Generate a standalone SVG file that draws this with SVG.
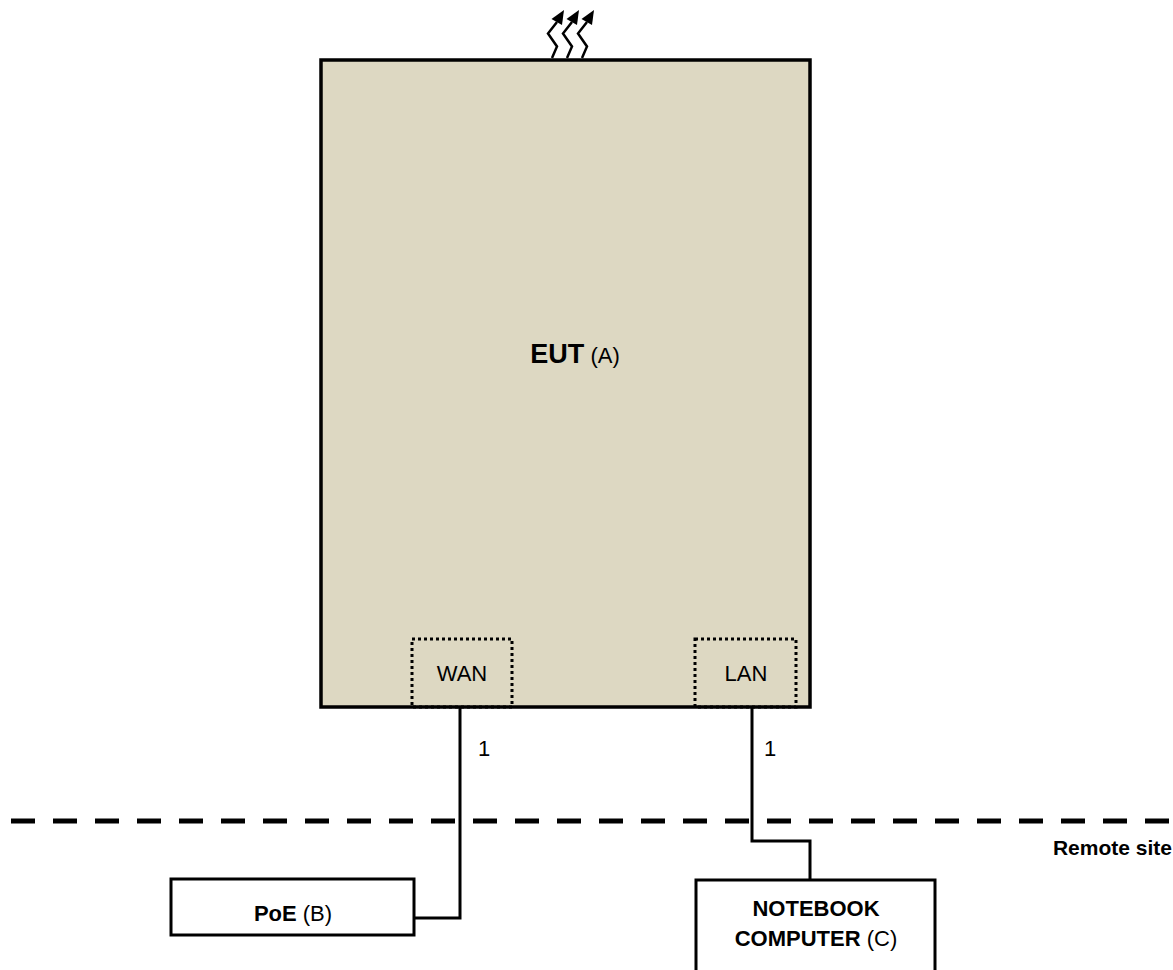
<svg xmlns="http://www.w3.org/2000/svg" width="1173" height="970" viewBox="0 0 1173 970">
<style>
.box{fill:#fff;stroke:#000;stroke-width:3}
.eut{fill:#DDD8C2;stroke:#000;stroke-width:3.5}
.port{fill:none;stroke:#000;stroke-width:3;stroke-dasharray:3 3}
.wire{fill:none;stroke:#000;stroke-width:3}
.sep{fill:none;stroke:#000;stroke-width:5;stroke-dasharray:24 18}
.t{font-family:"Liberation Sans",Arial,sans-serif;fill:#000;text-anchor:middle}
.b{font-weight:bold}
</style>
<defs>
<g id="wave">
<polyline points="552,58 557,46.5 548,33.5 557,22" fill="none" stroke="#000" stroke-width="2.5"/>
<polygon points="564,10 562,25 551.5,19" fill="#000"/>
</g>
</defs>
<g id="connectors">
<line class="sep" x1="11" y1="821" x2="1173" y2="821"/>
<polyline class="wire" points="460,708 460,918 413,918"/>
<polyline class="wire" points="752,708 752,841 810,841 810,880"/>
</g>
<g id="eut">
<rect class="eut" x="321" y="60" width="489" height="647"/>
<use href="#wave"/>
<use href="#wave" x="15"/>
<use href="#wave" x="30"/>
<text class="t" x="575" y="363"><tspan class="b" font-size="27">EUT</tspan><tspan font-size="22"> (A)</tspan></text>
</g>
<g id="wan">
<rect class="port" x="412" y="639" width="100" height="68"/>
<text class="t" x="462" y="681" font-size="22">WAN</text>
</g>
<g id="lan">
<rect class="port" x="695" y="639" width="101" height="68"/>
<text class="t" x="746" y="681" font-size="22">LAN</text>
</g>
<g id="labels">
<text class="t" x="484" y="756" font-size="22">1</text>
<text class="t" x="770" y="756" font-size="22">1</text>
<text x="1172" y="855" font-size="21" class="t b" style="text-anchor:end">Remote site</text>
</g>
<g id="poe">
<rect class="box" x="171" y="879" width="243" height="56"/>
<text class="t" x="293" y="921" font-size="22"><tspan class="b">PoE</tspan> (B)</text>
</g>
<g id="notebook">
<rect class="box" x="696" y="880" width="239" height="110"/>
<text class="t b" x="816" y="916" font-size="22">NOTEBOOK</text>
<text class="t" x="816" y="946" font-size="22"><tspan class="b">COMPUTER</tspan> (C)</text>
</g>
</svg>
